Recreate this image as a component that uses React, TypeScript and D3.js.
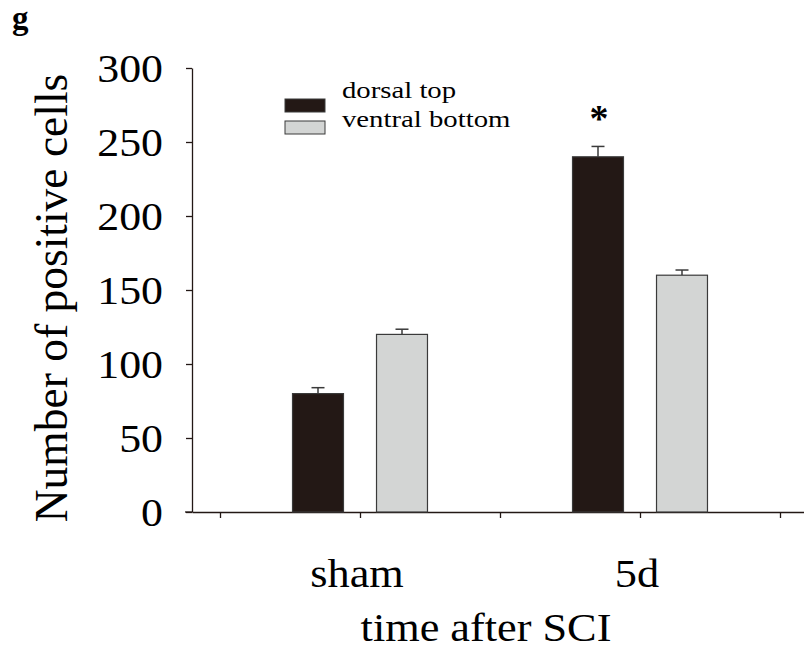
import { useEffect, useRef } from 'react';
import * as d3 from 'd3';

// data
const groups = ['sham', '5d'];
const dorsalTop = [80, 240];
const dorsalErr = [4, 7];
const ventralBottom = [120, 160];
const ventralErr = [3.5, 3.5];
const yTicks = [0, 50, 100, 150, 200, 250, 300];
const xTicks = [0.5, 1, 1.5, 2, 2.5];

const DARK = '#231815';
const LIGHT = '#d3d5d4';
const EDGE = '#3a3a3a';
const FONT = '"Liberation Serif", "Times New Roman", serif';
const SX = 1.08; // the figure's text is a bit wide

const App = () => {
  const ref = useRef<SVGSVGElement>(null);

  useEffect(() => {
    const svg = d3.select(ref.current);
    svg.selectAll('*').remove();

    const x = d3.scaleLinear().domain([0.4, 2.6]).range([192, 808]);
    const y = d3.scaleLinear().domain([0, 300]).range([512, 68]);
    const barW = 0.182;
    const off = 0.15;

    // text drawn with a horizontal stretch
    const label = (tx: number, ty: number, s: string, size: number, anchor = 'middle', sx = SX) =>
      svg.append('text')
        .attr('transform', `translate(${tx},${ty}) scale(${sx},1)`)
        .attr('text-anchor', anchor)
        .attr('font-family', FONT).attr('font-size', size)
        .text(s);

    // y axis
    const yAxis = svg.append('g')
      .attr('transform', `translate(${x(0.4)},0)`)
      .call(d3.axisLeft(y).tickValues(yTicks).tickSize(6).tickSizeOuter(0).tickFormat(() => ''));
    yAxis.select('.domain').attr('stroke', DARK).attr('stroke-width', 1.3);
    yAxis.selectAll('line').attr('stroke', DARK).attr('stroke-width', 1.3);
    yTicks.forEach((t) => {
      label(163, y(t) + 14, String(t), 41, 'end', 1.07);
    });

    // x axis
    const xAxis = svg.append('g')
      .attr('transform', `translate(0,${y(0)})`)
      .call(d3.axisBottom(x).tickValues(xTicks).tickSize(6).tickSizeOuter(0).tickFormat(() => ''));
    xAxis.select('.domain').attr('stroke', DARK).attr('stroke-width', 1.3);
    xAxis.selectAll('line').attr('stroke', DARK).attr('stroke-width', 1.3);
    svg.append('line')
      .attr('x1', x(0.4) - 7).attr('x2', x(0.4))
      .attr('y1', y(0)).attr('y2', y(0))
      .attr('stroke', DARK).attr('stroke-width', 1.3);

    const series = [
      { vals: dorsalTop, errs: dorsalErr, fill: DARK, dx: -off },
      { vals: ventralBottom, errs: ventralErr, fill: LIGHT, dx: off },
    ];

    series.forEach((s) => {
      s.vals.forEach((v, i) => {
        const cx = x(i + 1 + s.dx);
        const w = x(barW) - x(0);
        // error bar (upper only)
        svg.append('line')
          .attr('x1', cx).attr('x2', cx)
          .attr('y1', y(v)).attr('y2', y(v + s.errs[i]))
          .attr('stroke', EDGE).attr('stroke-width', 1.5);
        svg.append('line')
          .attr('x1', cx - 6.5).attr('x2', cx + 6.5)
          .attr('y1', y(v + s.errs[i])).attr('y2', y(v + s.errs[i]))
          .attr('stroke', EDGE).attr('stroke-width', 1.5);
        svg.append('rect')
          .attr('x', cx - w / 2).attr('y', y(v))
          .attr('width', w).attr('height', y(0) - y(v))
          .attr('fill', s.fill).attr('stroke', EDGE).attr('stroke-width', 1.2);
      });
    });

    // significance star
    svg.append('text')
      .attr('x', x(2 - off) + 1).attr('y', y(dorsalTop[1] + dorsalErr[1]) - 15)
      .attr('text-anchor', 'middle')
      .attr('font-family', FONT).attr('font-size', 38).attr('font-weight', 'bold')
      .text('*');

    // group labels
    groups.forEach((g, i) => {
      label(x(i + 1) - 3, 587, g, 41);
    });

    label(486, 641, 'time after SCI', 41);

    svg.append('text')
      .attr('transform', `translate(67,298) rotate(-90)`)
      .attr('text-anchor', 'middle')
      .attr('font-family', FONT).attr('font-size', 45.5)
      .text('Number of positive cells');

    svg.append('text')
      .attr('x', 12).attr('y', 29)
      .attr('font-family', FONT).attr('font-size', 33).attr('font-weight', 'bold')
      .text('g');

    // legend
    const legend = [
      { label: 'dorsal top', fill: DARK },
      { label: 'ventral bottom', fill: LIGHT },
    ];
    legend.forEach((l, i) => {
      const ly = 99 + i * 22;
      svg.append('rect')
        .attr('x', 285).attr('y', ly).attr('width', 40).attr('height', 13)
        .attr('fill', l.fill).attr('stroke', EDGE).attr('stroke-width', 1);
      label(342, 98 + i * 29, l.label, 23, 'start', 1.25);
    });
  }, []);

  return <svg ref={ref} width={804} height={650} style={{ position: 'absolute', left: 0, top: 0 }} />;
};

export default App;
